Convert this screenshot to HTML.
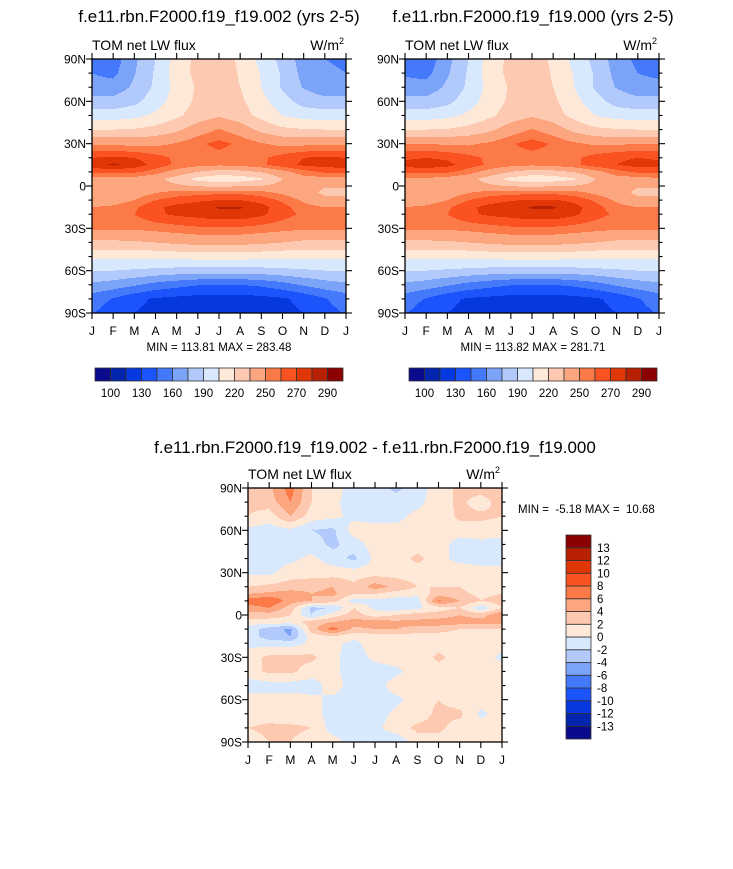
<!DOCTYPE html>
<html><head><meta charset="utf-8">
<style>
html,body{margin:0;padding:0;background:#fff;}
body{width:733px;height:869px;position:relative;overflow:hidden;font-family:"Liberation Sans",Arial,sans-serif;}
svg{position:absolute;left:0;top:0;}
</style></head>
<body>
<svg id="fig" width="733" height="869" viewBox="0 0 733 869" xmlns="http://www.w3.org/2000/svg"></svg>
<script>
const months = ["J","F","M","A","M","J","J","A","S","O","N","D","J"];
const lats = [90,80,70,60,50,40,30,20,15,10,5,0,-5,-10,-15,-20,-30,-40,-50,-60,-70,-80,-90];
const latLabels = ["90N","60N","30N","0","30S","60S","90S"];
const latTicks = [90,60,30,0,-30,-60,-90];
const palette = ["#0a0a8c","#0324ac","#0538de","#1c54fc","#4479fc","#7ba3f8","#b2cafb","#d9e9fd","#fee9d9","#fdc9b1","#fca680","#fc7a48","#fb5222","#e13707","#b72002","#8b0000"];
const topLevels = [100,115,130,145,160,175,190,205,220,235,250,260,270,280,290];
const topLabels = ["100","130","160","190","220","250","270","290"];
const diffLevels = [-13,-12,-10,-8,-6,-4,-2,0,2,4,6,8,10,12,13];
const diffLabels = ["-13","-12","-10","-8","-6","-4","-2","0","2","4","6","8","10","12","13"];

const fluxA = [
[158,152,172,190,212,224,226,218,200,185,168,160,158],
[160,156,174,192,213,224,226,219,204,188,170,162,160],
[166,166,178,193,210,222,225,220,205,188,174,166,166],
[180,180,186,198,212,223,228,223,210,196,184,180,180],
[198,198,201,208,217,227,233,227,215,205,199,198,198],
[220,220,221,225,232,243,251,243,231,223,221,220,220],
[248,248,246,247,251,258,263,258,251,247,247,248,248],
[270,272,270,264,258,256,256,256,258,264,270,272,270],
[276,282,276,266,258,254,252,254,258,266,272,274,276],
[262,262,262,255,245,235,228,230,236,246,256,262,262],
[246,246,245,240,228,215,210,212,218,235,245,245,246],
[240,240,241,242,238,234,232,234,236,240,240,236,236],
[240,240,243,250,255,257,258,258,255,248,241,232,232],
[242,244,250,260,265,268,270,270,266,258,248,240,238],
[250,252,258,268,273,276,281,281,274,264,254,250,250],
[255,256,260,268,272,274,277,277,272,264,258,255,255],
[252,252,252,254,256,258,258,258,256,254,252,252,252],
[232,232,233,235,238,240,241,240,238,235,232,232,232],
[208,208,208,209,210,211,211,211,210,209,208,208,208],
[191,190,188,186,184,183,183,183,184,186,188,190,191],
[172,168,162,155,150,146,145,145,148,154,162,168,172],
[152,144,134,128,126,124,124,124,125,128,134,144,152],
[146,138,130,126,124,122,122,122,124,126,130,140,146]];
const fluxB = [
[156,150,170,190,212,224,226,218,200,185,168,156,150],
[158,155,173,192,213,224,226,219,204,188,170,160,156],
[166,166,178,193,210,222,225,220,205,188,174,166,166],
[180,180,186,198,212,223,228,223,210,196,184,180,180],
[198,198,201,208,217,227,233,227,215,205,199,198,198],
[220,220,221,225,232,243,251,243,231,223,221,220,220],
[250,250,248,248,252,259,264,259,252,248,248,250,250],
[268,270,268,263,258,256,256,256,258,264,268,270,268],
[274,276,273,265,258,254,252,254,258,265,270,274,274],
[262,262,262,255,245,235,228,230,236,246,256,262,262],
[248,248,245,240,228,215,210,212,218,235,245,245,248],
[242,240,241,242,238,234,232,234,236,240,240,236,236],
[240,240,243,250,255,257,258,258,255,248,241,232,232],
[242,244,250,260,266,269,271,271,267,258,248,240,238],
[250,252,258,268,273,276,281,281,274,264,254,250,250],
[255,256,260,268,272,274,277,277,272,264,258,255,255],
[252,252,252,254,256,258,258,258,256,254,252,252,252],
[232,232,233,235,238,240,241,240,238,235,232,232,232],
[208,208,208,209,210,211,211,211,210,209,208,208,208],
[191,190,188,186,184,183,183,183,184,186,188,190,191],
[172,168,162,155,150,146,145,145,148,154,162,168,172],
[152,144,134,128,126,124,124,124,125,128,134,144,152],
[146,138,130,126,124,122,122,122,124,126,130,140,146]];
const fluxDiff = [
[3,3.5,7,2,1,-1,-1,-2.5,-1,1,2.5,3,3],
[2.5,3,6,2,0.5,-1,-1,-1,-0.5,1,2.5,1,3],
[2,1,4,1,0.5,-0.5,-1,-0.5,0.5,0.5,2.5,2.5,2],
[-0.5,-1,-0.5,-2,-2.5,1,1,0.5,0.5,1,1,1,1],
[-1,-1,-1,-1,-2.5,-1,1,1,1,1,-1,-0.5,-1],
[-1,-1,-0.5,0.5,-1,-2.5,0.5,1,2.5,1,-1,-1,-1],
[-0.5,-0.5,1,1,1,1,1,1,1,1,2,1,1],
[2,2.5,3,3.5,4,2.5,5,3.5,2,2,2,1,1],
[4,4.5,5,4,4.5,2,2,1,0.5,3,2.5,1.5,2],
[7,8,5,4,3,-1,-0.5,-1,-1,6.5,4,2,3],
[5,6,3,-2.5,-2,2,-0.5,-1.5,-0.5,1,2,-1.5,2],
[3,3,2,-2,1,3,1,2,3,3,4,3,6],
[1,1,1,3,4,5,5,4.5,4.5,5,5,5,5],
[-1,-3,-4.5,3,7,3.5,4,4,3.5,3,2,2,2],
[-1,-3,-4,1,2,0.5,1,1,1,1,1,1,1],
[-0.5,-1,-1,0.5,0.5,-0.5,1,1,1,1,1,1,1],
[1,2.5,2.5,2.5,0.5,-1,0.5,1,0.5,2.5,1,1,-0.5],
[1,2.5,2.5,1,0.5,-1,-1,-0.5,1,1,1,1,1],
[-1,-1,-1,-1,1,-1,-1,1,1,1,1,1,1],
[1,1,1,0.5,-0.5,-1,-1,-0.5,1,2,1,1,1],
[1,1,0.5,1,-1,-1,-1,0.5,1,2.5,2.5,-0.5,1],
[2,2.5,2.5,2,-1,-1,-0.5,1,2.5,2.5,1,1,1],
[1,2,2,1,1,-1,-1,-1.5,1,1,1,1,1]];

const NS="http://www.w3.org/2000/svg";
const fig=document.getElementById('fig');
function mk(tag,attrs,parent){const e=document.createElementNS(NS,tag);for(const k in attrs)e.setAttribute(k,attrs[k]);(parent||fig).appendChild(e);return e;}
function txt(x,y,s,size,anchor,parent,name){const t=mk('text',{x:x,y:y,'font-size':size,'text-anchor':anchor||'start',fill:'#000','font-family':'Liberation Sans, Arial, sans-serif'},parent);t.style.whiteSpace='pre';t.textContent=s;


return t;}

function sample(grid,m,lat){
  let i=0;while(i<lats.length-2&&lat<lats[i+1])i++;
  const fy=(lats[i]-lat)/(lats[i]-lats[i+1]);
  let j=Math.min(Math.floor(m),11);const fx=m-j;
  const a=grid[i][j],b=grid[i][j+1],c=grid[i+1][j],d=grid[i+1][j+1];
  return (a*(1-fx)+b*fx)*(1-fy)+(c*(1-fx)+d*fx)*fy;
}
function colorIdx(v,levels){let k=0;while(k<levels.length&&v>=levels[k])k++;return k;}

function panel(px,py,W,H,grid,levels,name){
  const g=mk('g',{});
  
  
  const xs=m=>px+m/12*W, ys=lat=>py+(90-lat)/180*H;
  const step=1;
  const fg=mk('g',{'shape-rendering':'crispEdges'},g);
  
  
  for(let y=0;y<H;y+=step){
    const lat=90-(y+step/2)/H*180;
    let start=0,cur=-1;
    for(let x=0;x<=W;x++){
      let ci=-1;
      if(x<W){ci=colorIdx(sample(grid,(x+0.5)/W*12,lat),levels);}
      if(ci!==cur){
        if(cur>=0){const r=mk('rect',{x:px+start,y:py+y,width:x-start,height:step,fill:palette[cur]},fg);
          
          }
        cur=ci;start=x;
      }
    }
  }
  const fr=mk('rect',{x:px,y:py,width:W,height:H,fill:'none',stroke:'#000','stroke-width':1.3},g);
  
  
  const ax=mk('g',{stroke:'#000','stroke-width':1.1},g);
  
  
  for(let lat=90;lat>=-90;lat-=10){
    const major=latTicks.indexOf(lat)>=0, L=major?6:3.5, y=ys(lat);
    mk('line',{x1:px-L,y1:y,x2:px,y2:y},ax);mk('line',{x1:px+W,y1:y,x2:px+W+L,y2:y},ax);
  }
  months.forEach((m,i)=>{const x=xs(i);mk('line',{x1:x,y1:py+H,x2:x,y2:py+H+6},ax);mk('line',{x1:x,y1:py-6,x2:x,y2:py},ax);});
  latTicks.forEach((lat,i)=>txt(px-6,ys(lat)+4.5,latLabels[i],12,'end',g,'y-tick-label'));
  months.forEach((m,i)=>txt(xs(i),py+H+22,m,12,'middle',g,'x-tick-label'));
  txt(px,py-9,'TOM net LW flux',14,'start',g,'plot-left-subtitle');
  const u=txt(px+W-2,py-9,'W/m',14,'end',g,'units-label');
  const sup=mk('tspan',{'font-size':9,dy:-6},u);sup.textContent='2';
  return g;
}
function hbar(x0,y0,w,h,labels,name){
  const g=mk('g',{});
  
  
  const bw=w/16;
  palette.forEach((c,i)=>{const r=mk('rect',{x:x0+i*bw,y:y0,width:bw,height:h,fill:c,stroke:'#333','stroke-width':0.8},g);
    
    });
  labels.forEach((s,k)=>txt(x0+(2*k+1)*bw,y0+h+16,s,11.5,'middle',g,'colorbar-label'));
}
function vbar(x0,y0,w,h,labels,name){
  const g=mk('g',{});
  
  
  const bh=h/16;
  palette.forEach((c,i)=>{const r=mk('rect',{x:x0,y:y0+(15-i)*bh,width:w,height:bh,fill:c,stroke:'#333','stroke-width':0.8},g);
    
    });
  labels.forEach((s,k)=>txt(x0+w+6,y0+(15-k-1)*bh+bh+4,s,11.5,'start',g,'colorbar-label'));
}

txt(219,22,'f.e11.rbn.F2000.f19_f19.002 (yrs 2-5)',17,'middle',null,'left-title');
txt(533,22,'f.e11.rbn.F2000.f19_f19.000 (yrs 2-5)',17,'middle',null,'right-title');
txt(375,453,'f.e11.rbn.F2000.f19_f19.002 - f.e11.rbn.F2000.f19_f19.000',17,'middle',null,'diff-title');
panel(92,59,254,254,fluxA,topLevels,'panel-002');
panel(405,59,254,254,fluxB,topLevels,'panel-000');
panel(248,488,254,254,fluxDiff,diffLevels,'panel-diff');
txt(219,351,'MIN = 113.81 MAX = 283.48',11.5,'middle',null,'minmax-002');
txt(533,351,'MIN = 113.82 MAX = 281.71',11.5,'middle',null,'minmax-000');
txt(518,513,'MIN =  -5.18 MAX =  10.68',11.5,'start',null,'minmax-diff');
hbar(95,368,248,13,topLabels,'colorbar-002');
hbar(409,368,248,13,topLabels,'colorbar-000');
vbar(566,535,25,204,diffLabels,'colorbar-diff');
</script>
</body></html>
